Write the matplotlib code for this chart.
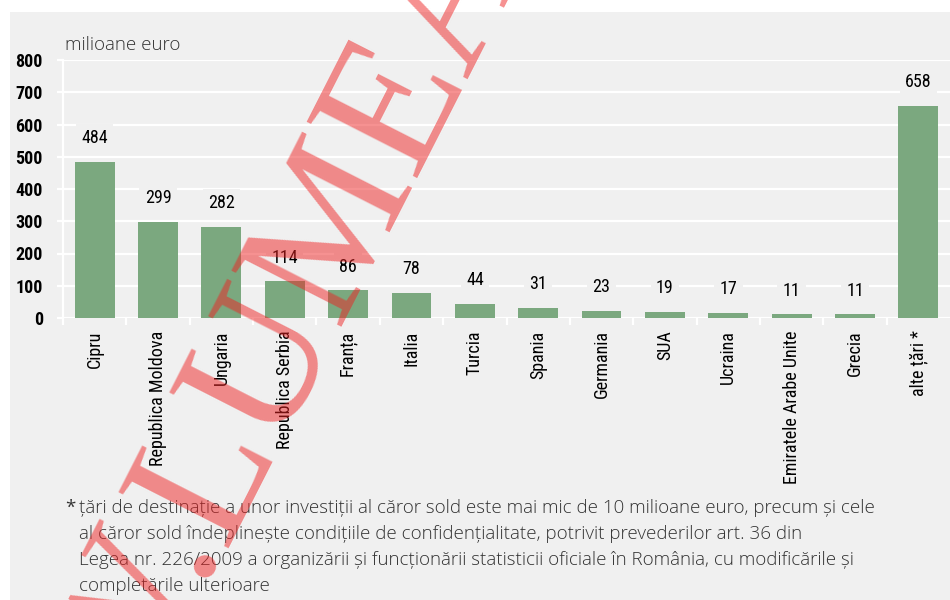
import matplotlib
matplotlib.use('Agg')
import matplotlib.pyplot as plt
from matplotlib.patches import Rectangle
from matplotlib.ticker import FixedLocator

categories = ['Cipru', 'Republica Moldova', 'Ungaria', 'Republica Serbia', 'Franța',
              'Italia', 'Turcia', 'Spania', 'Germania', 'SUA', 'Ucraina',
              'Emiratele Arabe Unite', 'Grecia', 'alte țări *']
values = [484, 299, 282, 114, 86, 78, 44, 31, 23, 19, 17, 11, 11, 658]
yticks = [0, 100, 200, 300, 400, 500, 600, 700, 800]

unit_label = 'milioane euro'
footnote = ('țări de destinație a unor investiții al căror sold este mai mic de 10 milioane euro, precum și cele\n'
            'al căror sold îndeplinește condițiile de confidențialitate, potrivit prevederilor art. 36 din\n'
            'Legea nr. 226/2009 a organizării și funcționării statisticii oficiale în România, cu modificările și\n'
            'completările ulterioare')

bg = '#f0f0f0'
bar_color = '#7ba87f'
narrow = ['Roboto Condensed', 'Liberation Sans Narrow', 'Roboto', 'DejaVu Sans']
body = ['Open Sans', 'DejaVu Sans']
serif = ['Liberation Serif', 'DejaVu Serif']

fig = plt.figure(figsize=(9.5, 6), dpi=100)
fig.patch.set_facecolor('white')
fig.patches.append(Rectangle((10 / 950, 0), 1, 1 - 12 / 600, transform=fig.transFigure,
                             facecolor=bg, edgecolor='none', zorder=-5))

ax = fig.add_axes([63 / 950, 1 - 318 / 600, 1 - 63 / 950, 258 / 600])
ax.set_facecolor('none')
x = list(range(len(categories)))
ax.bar(x, values, width=0.63, color=bar_color, zorder=3)
ax.set_xlim(-0.5, len(categories) - 0.5)
ax.set_ylim(0, 800)

ax.set_yticks(yticks)
ax.yaxis.grid(True, color='white', linewidth=1.6, zorder=1)
ax.set_axisbelow(True)
for s in ['top', 'right', 'bottom']:
    ax.spines[s].set_visible(False)
ax.spines['left'].set_color('white')
ax.spines['left'].set_linewidth(1.6)
ax.tick_params(axis='y', colors='white', length=4.5, width=1.6, pad=10, labelcolor='black')
for lab in ax.get_yticklabels():
    lab.set_fontfamily(narrow)
    lab.set_fontsize(13)
    lab.set_fontweight('bold')

ax.set_xticks(x)
ax.set_xticklabels(categories, rotation=90, fontfamily=narrow, fontsize=13)
ax.tick_params(axis='x', length=0, pad=9)
ax.xaxis.set_minor_locator(FixedLocator([i - 0.5 for i in x]))
ax.tick_params(axis='x', which='minor', length=5, width=1.6, color='white')

for xi, v in zip(x, values):
    ax.annotate(str(v), (xi, v), xytext=(0, 17), textcoords='offset points',
                ha='center', va='center', fontfamily=narrow, fontsize=13,
                bbox=dict(boxstyle='square,pad=0.3', facecolor=bg, edgecolor='none'),
                zorder=4)

fig.text(65 / 950, 1 - 45 / 600, unit_label, fontfamily=body, fontsize=13.5,
         fontweight='light', color='#333333', va='center', ha='left')

foot_top = 1 - 499 / 600
fig.text(65 / 950, foot_top, '*', fontfamily=body, fontsize=13.5, color='#333333',
         va='top', ha='left')
fig.text(79 / 950, foot_top, footnote, fontfamily=body, fontsize=13.5, fontweight='light',
         color='#333333', va='top', ha='left', linespacing=1.56)

# watermark
wm = dict(fontfamily=serif, fontsize=135, color='#ee2222', alpha=0.5, rotation=63,
          rotation_mode='anchor', va='baseline', zorder=10)
fig.text(224 / 950, 1 - 548 / 600, 'LUMEA', ha='left', **wm)
fig.text(224 / 950, 1 - 548 / 600, 'W.', ha='right', **wm)

fig.savefig('out.png', dpi=100, facecolor='white')
